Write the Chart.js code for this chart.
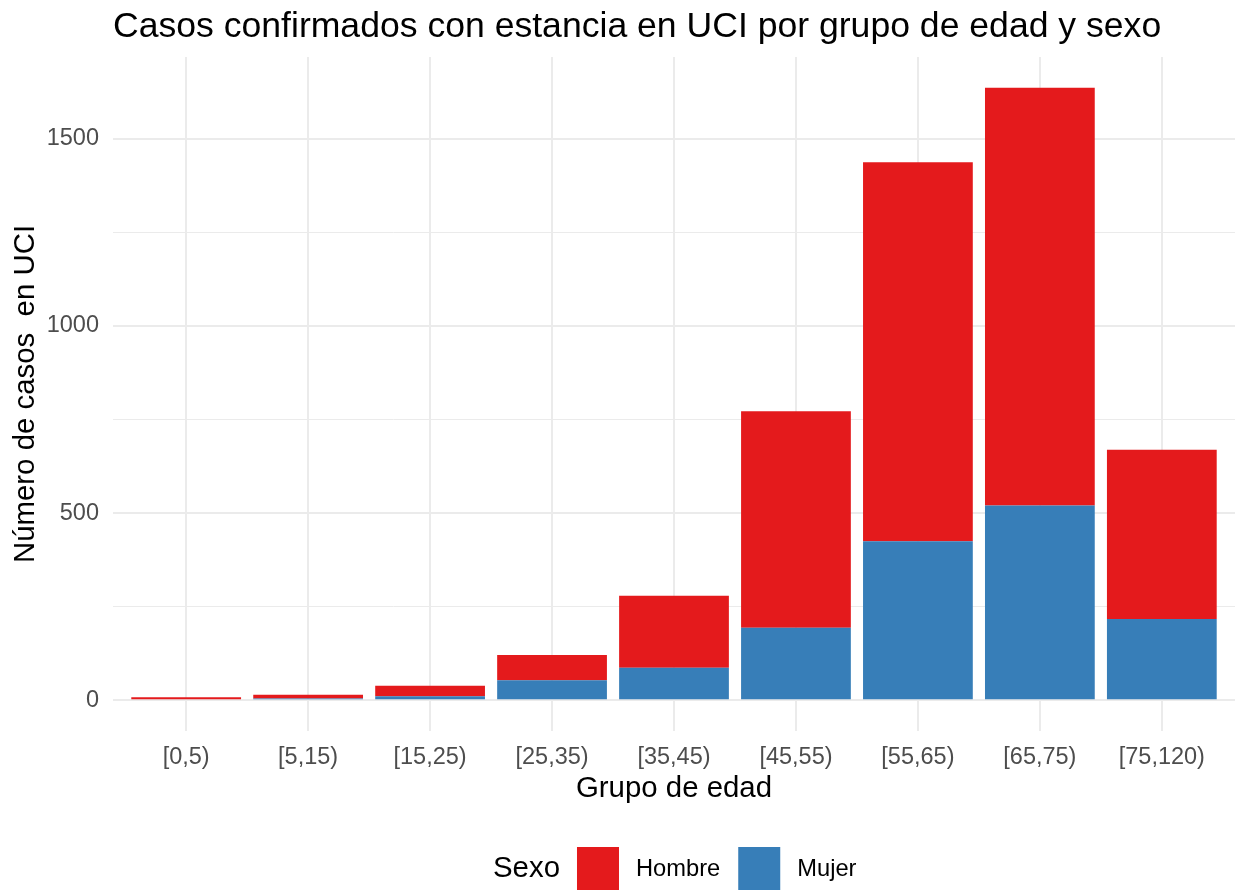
<!DOCTYPE html>
<html>
<head>
<meta charset="utf-8">
<script src="https://cdn.jsdelivr.net/npm/chart.js@4"></script>
<style>
  html, body { margin: 0; padding: 0; background: #ffffff; }
  canvas { display: block; }
</style>
</head>
<body>
<canvas id="c" width="1236" height="890"></canvas>
<script>
// ---- Data ----
const categories = ['[0,5)', '[5,15)', '[15,25)', '[25,35)', '[35,45)', '[45,55)', '[55,65)', '[65,75)', '[75,120)'];
const mujer  = [3, 5, 11, 54, 87, 194, 425, 520, 217];
const hombre = [5, 10, 28, 67, 192, 578, 1012, 1116, 452];
const yTicks = [0, 250, 500, 750, 1000, 1250, 1500];
const yLabelStep = 500;

const titleText = 'Casos confirmados con estancia en UCI por grupo de edad y sexo';
const xTitle = 'Grupo de edad';
const yTitle = 'Número de casos  en UCI';
const legendTitle = 'Sexo';

const RED = '#E41A1C';
const BLUE = '#377EB8';
const GRID = '#EBEBEB';
const TICK = '#4D4D4D';
const FONT = '"Liberation Sans", Arial, Helvetica, sans-serif';

const totals = hombre.map((h, i) => h + mujer[i]);
const maxTotal = Math.max(...totals);
const yMax = maxTotal * 1.05;
const yMin = -maxTotal * 0.05;

const overlay = {
  id: 'overlay',
  afterDraw(chart) {
    const ctx = chart.ctx;
    const area = chart.chartArea;
    ctx.save();
    // Title
    ctx.fillStyle = '#000000';
    ctx.font = '35.6px ' + FONT;
    ctx.textAlign = 'left';
    ctx.textBaseline = 'alphabetic';
    ctx.fillText(titleText, area.left, 37);

    // Legend (Hombre first, Mujer second)
    const items = [
      { label: chart.data.datasets[1].label, color: chart.data.datasets[1].backgroundColor },
      { label: chart.data.datasets[0].label, color: chart.data.datasets[0].backgroundColor }
    ];
    const cy = 869;
    let x = 493;
    ctx.textBaseline = 'middle';
    ctx.font = '29.4px ' + FONT;
    ctx.fillText(legendTitle, x, cy);
    x += ctx.measureText(legendTitle).width + 17;
    ctx.font = '23.7px ' + FONT;
    items.forEach(it => {
      ctx.fillStyle = it.color;
      ctx.fillRect(x, 847, 42, 43);
      x += 42 + 17;
      ctx.fillStyle = '#000000';
      ctx.fillText(it.label, x, cy);
      x += ctx.measureText(it.label).width + 18;
    });
    ctx.restore();
  }
};

new Chart(document.getElementById('c'), {
  type: 'bar',
  data: {
    datasets: [
      { label: 'Mujer', data: mujer.map((v, i) => ({ x: i, y: v })), backgroundColor: BLUE, borderWidth: 0 },
      { label: 'Hombre', data: hombre.map((v, i) => ({ x: i, y: v })), backgroundColor: RED, borderWidth: 0 }
    ]
  },
  options: {
    responsive: false,
    animation: false,
    devicePixelRatio: 1,
    layout: { padding: { top: 57, left: 0, right: 1, bottom: 0 } },
    datasets: { bar: { barPercentage: 0.9, categoryPercentage: 1.0 } },
    plugins: {
      legend: { display: false },
      title: { display: false },
      tooltip: { enabled: false }
    },
    scales: {
      x: {
        type: 'linear',
        stacked: true,
        min: -0.6,
        max: 8.6,
        offset: false,
        afterBuildTicks: (scale) => { scale.ticks = categories.map((c, i) => ({ value: i })); },
        afterFit: (scale) => { scale.height = 159; },
        ticks: {
          autoSkip: false,
          maxRotation: 0,
          padding: 12,
          color: TICK,
          font: { family: FONT, size: 23.5 },
          callback: (v) => categories[v]
        },
        grid: { color: GRID, lineWidth: 2, drawTicks: false, offset: false },
        border: { display: false },
        title: {
          display: true,
          text: xTitle,
          color: '#000000',
          font: { family: FONT, size: 29.4 },
          padding: { top: 0, bottom: 83 }
        }
      },
      y: {
        stacked: true,
        min: yMin,
        max: yMax,
        afterBuildTicks: (scale) => { scale.ticks = yTicks.map(v => ({ value: v })); },
        afterFit: (scale) => { scale.width = 113; },
        ticks: {
          autoSkip: false,
          padding: 14,
          color: TICK,
          font: { family: FONT, size: 23.5 },
          callback: (v) => (v % yLabelStep === 0 ? String(v) : '')
        },
        grid: {
          color: GRID,
          drawTicks: false,
          lineWidth: (ctx) => (ctx.tick && ctx.tick.value % yLabelStep === 0 ? 2 : 1)
        },
        border: { display: false },
        title: {
          display: true,
          text: yTitle,
          color: '#000000',
          font: { family: FONT, size: 29.4 },
          padding: { top: 8, bottom: 0 }
        }
      }
    }
  },
  plugins: [overlay]
});
</script>
</body>
</html>
